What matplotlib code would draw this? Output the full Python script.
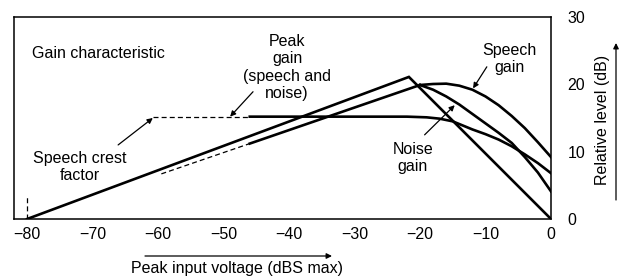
import matplotlib
matplotlib.use("Agg")
import matplotlib.pyplot as plt
from matplotlib.ticker import FixedLocator

plt.rcParams['font.family'] = ['Liberation Sans', 'DejaVu Sans']
FS = 11.5

# Peak gain (speech and noise): straight rise then straight fall
peak_x = [-80, -21.7, 0]
peak_y = [0, 21.1, 0]

# Lower rising line (dashed part, then solid part)
low_dash_x = [-59.5, -46]
low_dash_y = [6.7, 11.2]
low_x = [-46, -20]
low_y = [11.2, 19.9]

# Speech gain curve
speech_x = [-20, -18, -16, -14, -12, -10, -8, -6, -4, -2, 0]
speech_y = [19.9, 20.05, 20.1, 19.8, 19.2, 18.2, 16.9, 15.3, 13.5, 11.4, 9.2]

# Noise gain curve
noise_x = [-20, -18, -16, -14, -12, -10, -8, -6, -4, -2, 0]
noise_y = [19.9, 19.2, 18.2, 17.0, 15.6, 14.2, 12.8, 11.3, 9.2, 6.9, 4.1]

# Speech crest factor level (dashed then solid, then rolls off)
crest_dash_x = [-60.8, -46]
crest_dash_y = [15.2, 15.2]
crest_x = [-46, -22, -19, -17, -15, -12, -10, -8, -6, -4, -2, 0]
crest_y = [15.2, 15.2, 15.1, 14.9, 14.5, 13.3, 12.6, 11.8, 10.8, 9.6, 8.3, 6.8]

# short dashed marker at the start
start_x = [-80, -80]
start_y = [0, 3.2]

xtick_vals = [-80, -70, -60, -50, -40, -30, -20, -10, 0]
xtick_marks = [-70, -60, -50, -40, -30, -20, -10]
ytick_vals = [0, 10, 20, 30]
ytick_marks = [10, 20]

fig = plt.figure(figsize=(6.26, 2.8), dpi=100)
ax = fig.add_axes([14 / 626, 1 - 219 / 280, (551 - 14) / 626, (219 - 17) / 280])

lw = 1.9
ax.plot(peak_x, peak_y, color='black', lw=lw, solid_joinstyle='miter')
ax.plot(low_dash_x, low_dash_y, color='black', lw=0.9, ls=(0, (4, 2.5)))
ax.plot(low_x, low_y, color='black', lw=lw)
ax.plot(speech_x, speech_y, color='black', lw=lw)
ax.plot(noise_x, noise_y, color='black', lw=lw)
ax.plot(crest_dash_x, crest_dash_y, color='black', lw=0.9, ls=(0, (4, 2.5)))
ax.plot(crest_x, crest_y, color='black', lw=lw)
ax.plot(start_x, start_y, color='black', lw=0.9, ls=(0, (4, 2.5)))

ax.set_xlim(-82, 0)
ax.set_ylim(0, 30)

ax.set_xticks(xtick_vals)
ax.set_xticklabels(['\u2212' + str(abs(v)) if v < 0 else str(v) for v in xtick_vals])
ax.xaxis.set_minor_locator(FixedLocator(xtick_marks))
ax.set_yticks(ytick_vals)
ax.yaxis.set_minor_locator(FixedLocator(ytick_marks))
ax.tick_params(axis='both', which='major', length=0, labelsize=FS)
ax.tick_params(axis='x', which='major', pad=6)
ax.tick_params(axis='y', which='major', left=False, labelleft=False,
               right=False, labelright=True, pad=12)
ax.tick_params(axis='x', which='minor', direction='in', top=True, bottom=True,
               length=7, width=1.0)
ax.tick_params(axis='y', which='minor', direction='in', left=True, right=True,
               length=6, width=1.0)
for s in ax.spines.values():
    s.set_linewidth(1.1)

arrow = dict(arrowstyle='-|>', lw=0.9, color='black', mutation_scale=8,
             shrinkA=0, shrinkB=0)
ls = 1.2

ax.text(-79.3, 24.65, 'Gain characteristic', fontsize=FS, ha='left', va='center')
ax.text(-40.3, 22.5, 'Peak\ngain\n(speech and\nnoise)', fontsize=FS,
        ha='center', va='center', linespacing=ls)
ax.annotate('', xy=(-49, 15.2), xytext=(-45.5, 18.9), arrowprops=arrow)
ax.text(-72, 7.7, 'Speech crest\nfactor', fontsize=FS, ha='center', va='center',
        linespacing=ls)
ax.annotate('', xy=(-60.8, 15.0), xytext=(-66.1, 11.0), arrowprops=arrow)
ax.text(-6.3, 23.8, 'Speech\ngain', fontsize=FS, ha='center', va='center',
        linespacing=ls)
ax.annotate('', xy=(-11.9, 19.4), xytext=(-9.8, 22.6), arrowprops=arrow)
ax.text(-21.1, 9.1, 'Noise\ngain', fontsize=FS, ha='center', va='center',
        linespacing=ls)
ax.annotate('', xy=(-14.7, 16.9), xytext=(-19.3, 12.5), arrowprops=arrow)

# axis titles with direction arrows
fig.text(237 / 626, 1 - 268 / 280, 'Peak input voltage (dBS max)', fontsize=FS,
         ha='center', va='center')
fig.text(602 / 626, 1 - 120 / 280, 'Relative level (dB)', fontsize=FS,
         ha='center', va='center', rotation=90)
ax.annotate('', xy=(332, 24), xytext=(145, 24), xycoords='figure pixels',
            textcoords='figure pixels', arrowprops=arrow, annotation_clip=False)
ax.annotate('', xy=(616, 237), xytext=(616, 80), xycoords='figure pixels',
            textcoords='figure pixels', arrowprops=arrow, annotation_clip=False)

fig.savefig('out.png', dpi=100)
